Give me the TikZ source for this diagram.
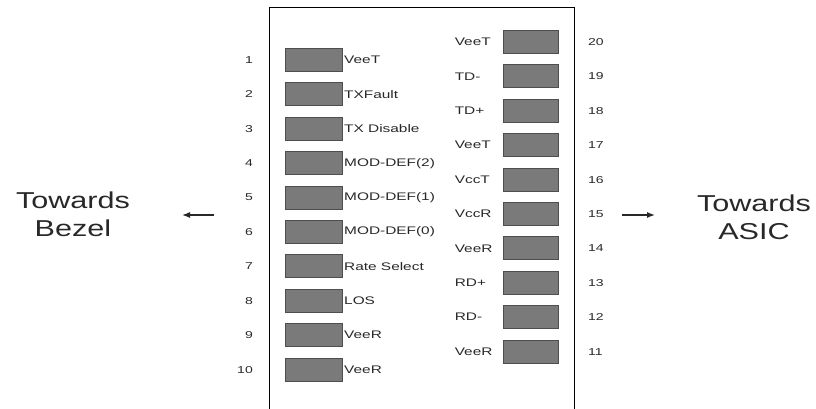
\documentclass[tikz,border=0pt]{standalone}
\usepackage{fontspec}
\setmainfont{Liberation Sans}
\newfontfamily\pinfont[FakeStretch=1.4]{Liberation Sans}
\newfontfamily\sidefont[FakeStretch=1.33]{Liberation Sans}
\usetikzlibrary{positioning,arrows.meta}

\definecolor{padgray}{RGB}{122,122,122}
\definecolor{padedge}{RGB}{78,78,78}
\definecolor{inkgray}{RGB}{40,40,40}

\tikzset{
    pad/.style={rectangle,draw=padedge,fill=padgray,line width=1pt,minimum height=23pt,inner sep=0pt},
    lpad/.style={pad,minimum width=57pt},
    rpad/.style={pad,minimum width=55pt},
    lbl/.style={inner sep=0pt,text=inkgray,font=\pinfont\fontsize{11}{13}\selectfont},
    num/.style={inner sep=0pt,text=inkgray,font=\pinfont\fontsize{10}{12}\selectfont},
    side/.style={align=center,text=inkgray,font=\sidefont\fontsize{23}{28}\selectfont},
    pointer/.style={-{Latex[length=8pt,width=6pt]},line width=1.2pt,inkgray}
}

\begin{document}
\begin{tikzpicture}[x=1pt,y=-1pt]
            \useasboundingbox (0,0) rectangle (816,409);
            % module outline, open at the bottom
            \draw[line width=1.6pt] (269.5,409) -- (269.5,7.5) -- (574.5,7.5) -- (574.5,409);
            % left row of pads
            \node[lpad] (p1) at (314,60) {};
            \node[lpad] (p2) at (314,94.4) {};
            \node[lpad] (p3) at (314,128.8) {};
            \node[lpad] (p4) at (314,163.2) {};
            \node[lpad] (p5) at (314,197.6) {};
            \node[lpad] (p6) at (314,232) {};
            \node[lpad] (p7) at (314,266.4) {};
            \node[lpad] (p8) at (314,300.8) {};
            \node[lpad] (p9) at (314,335.2) {};
            \node[lpad] (p10) at (314,369.6) {};
            \node[lbl, right=1pt of p1] {VeeT};
            \node[lbl, right=1pt of p2] {TXFault};
            \node[lbl, right=1pt of p3] {TX Disable};
            \node[lbl, right=1pt of p4] {MOD-DEF(2)};
            \node[lbl, right=1pt of p5] {MOD-DEF(1)};
            \node[lbl, right=1pt of p6] {MOD-DEF(0)};
            \node[lbl, right=1pt of p7] {Rate Select};
            \node[lbl, right=1pt of p8] {LOS};
            \node[lbl, right=1pt of p9] {VeeR};
            \node[lbl, right=1pt of p10] {VeeR};
            \node[num, left=32pt of p1] {1};
            \node[num, left=32pt of p2] {2};
            \node[num, left=32pt of p3] {3};
            \node[num, left=32pt of p4] {4};
            \node[num, left=32pt of p5] {5};
            \node[num, left=32pt of p6] {6};
            \node[num, left=32pt of p7] {7};
            \node[num, left=32pt of p8] {8};
            \node[num, left=32pt of p9] {9};
            \node[num, left=32pt of p10] {10};
            % right row of pads
            \node[rpad] (p20) at (531,42) {};
            \node[rpad] (p19) at (531,76.4) {};
            \node[rpad] (p18) at (531,110.8) {};
            \node[rpad] (p17) at (531,145.2) {};
            \node[rpad] (p16) at (531,179.6) {};
            \node[rpad] (p15) at (531,214) {};
            \node[rpad] (p14) at (531,248.4) {};
            \node[rpad] (p13) at (531,282.8) {};
            \node[rpad] (p12) at (531,317.2) {};
            \node[rpad] (p11) at (531,351.6) {};
            \node[lbl, text width=42pt, align=left, left=6pt of p20] {VeeT};
            \node[lbl, text width=42pt, align=left, left=6pt of p19] {TD-};
            \node[lbl, text width=42pt, align=left, left=6pt of p18] {TD+};
            \node[lbl, text width=42pt, align=left, left=6pt of p17] {VeeT};
            \node[lbl, text width=42pt, align=left, left=6pt of p16] {VccT};
            \node[lbl, text width=42pt, align=left, left=6pt of p15] {VccR};
            \node[lbl, text width=42pt, align=left, left=6pt of p14] {VeeR};
            \node[lbl, text width=42pt, align=left, left=6pt of p13] {RD+};
            \node[lbl, text width=42pt, align=left, left=6pt of p12] {RD-};
            \node[lbl, text width=42pt, align=left, left=6pt of p11] {VeeR};
            \node[num, right=29pt of p20] {20};
            \node[num, right=29pt of p19] {19};
            \node[num, right=29pt of p18] {18};
            \node[num, right=29pt of p17] {17};
            \node[num, right=29pt of p16] {16};
            \node[num, right=29pt of p15] {15};
            \node[num, right=29pt of p14] {14};
            \node[num, right=29pt of p13] {13};
            \node[num, right=29pt of p12] {12};
            \node[num, right=29pt of p11] {11};
            % directions
            \node[side] (bezel) at (73,214) {Towards\\Bezel};
            \node[side] (asic) at (754,217) {Towards\\ASIC};
            \coordinate (bl) at (214,215);
            \coordinate (br) at (622,215);
            \draw[pointer] (bl) -- (bl -| 182,0);
            \draw[pointer] (br) -- (br -| 655,0);
        \end{tikzpicture}
\end{document}
